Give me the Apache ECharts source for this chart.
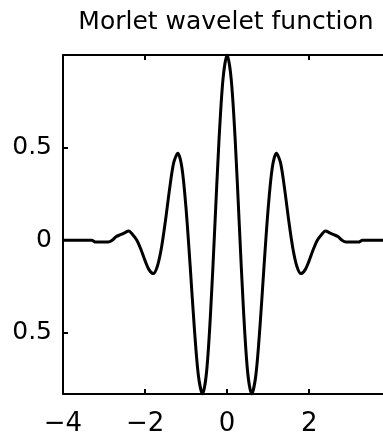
<!DOCTYPE html>
<html>
<head>
<meta charset="utf-8">
<script src="https://cdn.jsdelivr.net/npm/echarts@6/dist/echarts.min.js"></script>
<style>
  html, body { margin: 0; padding: 0; background: #fff; }
  #chart { width: 383px; height: 438px; }
</style>
</head>
<body>
<div id="chart"></div>
<script>
// t values (step 0.1) and wavelet amplitude
const tValues = [
  -4.0, -3.9, -3.8, -3.7, -3.6, -3.5, -3.4, -3.3, -3.2, -3.1,
  -3.0, -2.9, -2.8, -2.7, -2.6, -2.5, -2.4, -2.3, -2.2, -2.1,
  -2.0, -1.9, -1.8, -1.7, -1.6, -1.5, -1.4, -1.3, -1.2, -1.1,
  -1.0, -0.9, -0.8, -0.7, -0.6, -0.5, -0.4, -0.3, -0.2, -0.1,
  0.0, 0.1, 0.2, 0.3, 0.4, 0.5, 0.6, 0.7, 0.8, 0.9,
  1.0, 1.1, 1.2, 1.3, 1.4, 1.5, 1.6, 1.7, 1.8, 1.9,
  2.0, 2.1, 2.2, 2.3, 2.4, 2.5, 2.6, 2.7, 2.8, 2.9,
  3.0, 3.1, 3.2, 3.3, 3.4, 3.5, 3.6, 3.7, 3.8
];
const psiValues = [
  0.00, 0.00, 0.00, 0.00, 0.00, 0.00, 0.00, 0.00, -0.01, -0.01,
  -0.01, -0.01, 0.00, 0.02, 0.03, 0.04, 0.05, 0.03, 0.00, -0.05,
  -0.11, -0.16, -0.18, -0.14, -0.04, 0.11, 0.28, 0.42, 0.47, 0.39,
  0.17, -0.14, -0.47, -0.73, -0.83, -0.71, -0.38, 0.07, 0.53, 0.87,
  1.00, 0.87, 0.53, 0.07, -0.38, -0.71, -0.83, -0.73, -0.47, -0.14,
  0.17, 0.39, 0.47, 0.42, 0.28, 0.11, -0.04, -0.14, -0.18, -0.16,
  -0.11, -0.05, 0.00, 0.03, 0.05, 0.04, 0.03, 0.02, 0.00, -0.01,
  -0.01, -0.01, -0.01, 0.00, 0.00, 0.00, 0.00, 0.00, 0.00
];
const xTicks = [-4, -2, 0, 2];
const xTickLabels = ['\u22124', '\u22122', '0', '2'];
const yTicks = [-0.5, 0, 0.5];
const yTickLabels = ['0.5', '0', '0.5'];

const chart = echarts.init(document.getElementById('chart'));
const font = 'DejaVu Sans';

const axisLineStyle = { color: '#000', width: 2 };

chart.setOption({
  animation: false,
  backgroundColor: '#fff',
  title: {
    text: 'Morlet wavelet function',
    left: 221,
    textAlign: 'center',
    top: 5,
    textStyle: { fontFamily: font, fontSize: 25, fontWeight: 'normal', color: '#000' }
  },
  grid: { left: 63, right: 0, top: 55, bottom: 44 },
  xAxis: [
    {
      type: 'value',
      min: -4,
      max: 3.8,
      position: 'bottom',
      axisLine: { show: true, onZero: false, lineStyle: axisLineStyle },
      axisTick: { show: true, inside: true, length: 5, customValues: xTicks, lineStyle: { color: '#000', width: 2 } },
      axisLabel: {
        customValues: xTicks,
        margin: 17,
        fontFamily: font,
        fontSize: 26,
        color: '#000',
        formatter: v => xTickLabels[xTicks.indexOf(v)] ?? ''
      },
      splitLine: { show: false }
    },
    {
      type: 'value',
      min: -4,
      max: 3.8,
      position: 'top',
      axisLine: { show: true, onZero: false, lineStyle: axisLineStyle },
      axisTick: { show: true, inside: true, length: 5, customValues: xTicks, lineStyle: { color: '#000', width: 2 } },
      axisLabel: { show: false },
      splitLine: { show: false }
    }
  ],
  yAxis: {
    type: 'value',
    min: -0.83,
    max: 1.0,
    axisLine: { show: true, onZero: false, lineStyle: axisLineStyle },
    axisTick: { show: true, inside: true, length: 5, customValues: yTicks, lineStyle: { color: '#000', width: 2 } },
    axisLabel: {
      customValues: yTicks,
      margin: 11,
      fontFamily: font,
      fontSize: 25,
      color: '#000',
      formatter: v => yTickLabels[yTicks.indexOf(v)] ?? ''
    },
    splitLine: { show: false }
  },
  series: [
    {
      type: 'line',
      data: tValues.map((t, i) => [t, psiValues[i]]),
      showSymbol: false,
      smooth: 0.3,
      clip: true,
      lineStyle: { color: '#000', width: 3 }
    }
  ]
});
</script>
</body>
</html>
